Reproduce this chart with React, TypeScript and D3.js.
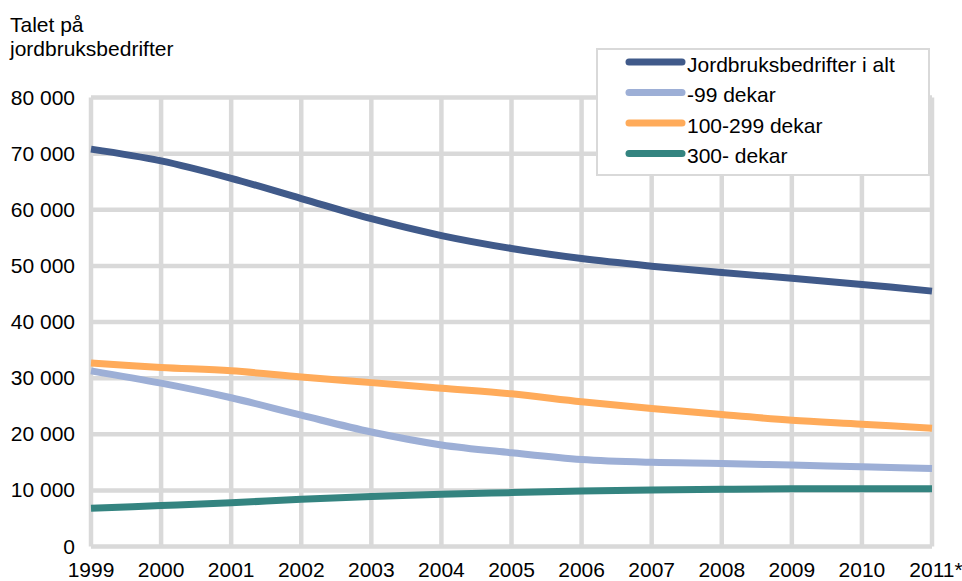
import React from "react";
import * as d3 from "d3";

const years = ["1999","2000","2001","2002","2003","2004","2005","2006","2007","2008","2009","2010","2011*"];
const total = [70800,68700,65600,62000,58400,55400,53100,51300,49950,48800,47800,46700,45500];
const small = [31300,29100,26500,23400,20400,18100,16700,15500,15000,14800,14500,14200,13900];
const medium = [32700,31900,31300,30200,29200,28200,27200,25800,24600,23500,22500,21800,21050];
const large = [6800,7300,7800,8400,8900,9300,9600,9900,10070,10200,10300,10300,10300];
const seriesNames = ["Jordbruksbedrifter i alt","-99 dekar","100-299 dekar","300- dekar"];
const seriesColors = ["#405a8a","#9dafd6","#ffab5a","#348480"];
const yTicks = [0,10000,20000,30000,40000,50000,60000,70000,80000];

export default function App() {
  const W = 962, H = 581;
  const x = d3.scaleLinear().domain([0, years.length - 1]).range([91, 932]);
  const y = d3.scaleLinear().domain([0, 80000]).range([546.5, 97.5]);
  const fmt = (v: number) => d3.format(",")(v).replace(/,/g, " ");
  const line = d3.line<number>().x((_, i) => x(i)).y(d => y(d)).curve(d3.curveCatmullRom.alpha(0.5));
  const allSeries = [total, small, medium, large];
  const font = "Liberation Sans, Arial, sans-serif";
  const grid = "#d9d9d9";
  const fs = 21;
  return (
    <svg width={W} height={H} style={{ position: "absolute", left: 0, top: 0, background: "#fff" }} fontFamily={font}>
      <text x={10} y={32} fontSize={fs} fill="#000">Talet på</text>
      <text x={10} y={56} fontSize={fs} fill="#000">jordbruksbedrifter</text>
      {yTicks.map(t => (
        <g key={t}>
          <line x1={x(0)} x2={x(years.length - 1)} y1={y(t)} y2={y(t)} stroke={grid} strokeWidth={4.5} />
          <text x={75} y={y(t) + 7} textAnchor="end" fontSize={fs} fill="#000">{fmt(t)}</text>
        </g>
      ))}
      {years.map((yr, i) => (
        <g key={yr}>
          <line x1={x(i)} x2={x(i)} y1={y(80000)} y2={y(0)} stroke={grid} strokeWidth={4.5} />
          <text x={x(i) + (i === years.length - 1 ? 4 : 0)} y={577} textAnchor="middle" fontSize={fs} fill="#000">{yr}</text>
        </g>
      ))}
      {allSeries.map((s, k) => (
        <path key={k} d={line(s) || ""} fill="none" stroke={seriesColors[k]} strokeWidth={7} />
      ))}
      <rect x={597} y={49} width={332} height={126} fill="#fff" stroke={grid} strokeWidth={2} />
      {seriesNames.map((n, k) => (
        <g key={n}>
          <line x1={629} x2={682} y1={62 + k * 30.5} y2={62 + k * 30.5} stroke={seriesColors[k]} strokeWidth={7} strokeLinecap="round" />
          <text x={687} y={62 + k * 30.5 + 9.5} fontSize={fs} fill="#000">{n}</text>
        </g>
      ))}
    </svg>
  );
}
